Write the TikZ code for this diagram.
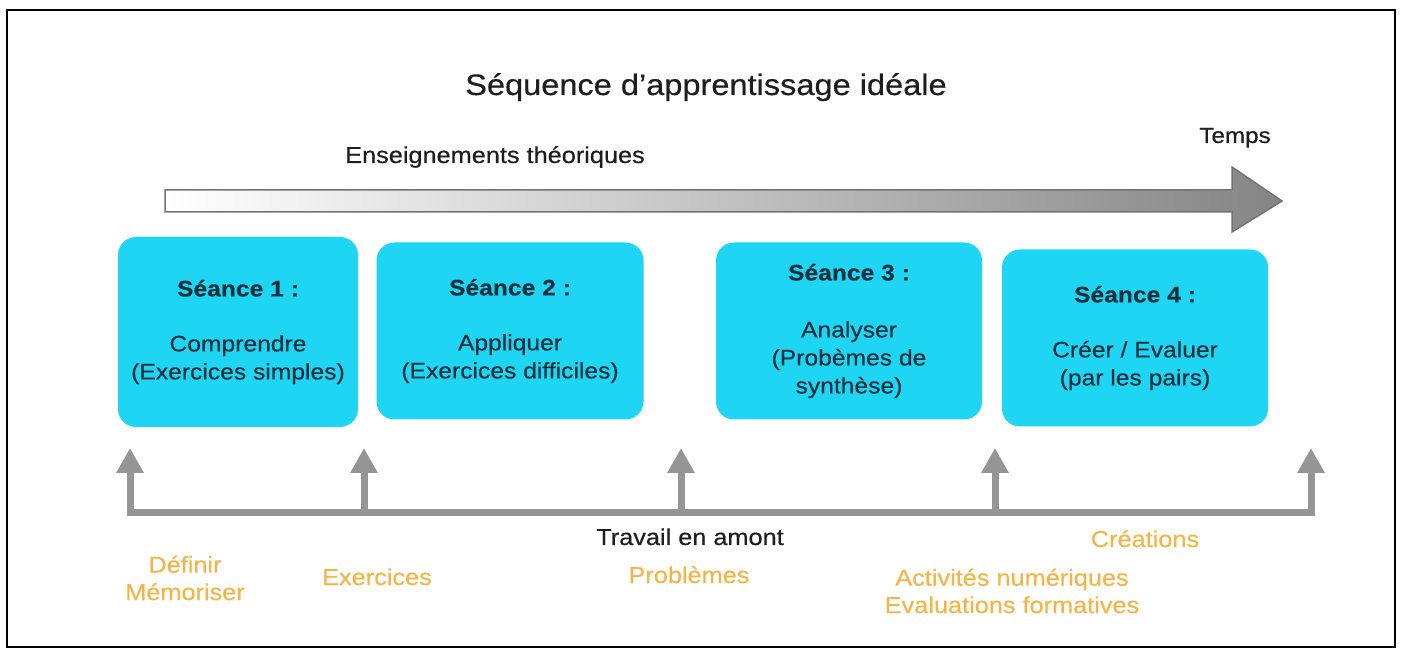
\documentclass[tikz,border=0pt]{standalone}
\usepackage{fontspec}
\setmainfont[FakeStretch=1.1, FakeBold=0.45]{Liberation Sans}
\usepackage{tikz}
\usetikzlibrary{arrows.meta,positioning,calc}
\definecolor{seanceCyan}{HTML}{1FD5F4}
\definecolor{seanceInk}{HTML}{14303C}
\definecolor{tacheOrange}{HTML}{F2B54A}
\definecolor{railGray}{HTML}{959595}
\definecolor{titleInk}{HTML}{1E1E1E}
\tikzset{
  >=Stealth,
  seance/.style={rectangle, rounded corners=9pt, fill=seanceCyan, text=seanceInk, inner sep=0pt, align=center, font=\fontsize{11.2}{14}\selectfont},
  tache/.style={text=tacheOrange, align=center, font=\fontsize{11.5}{13.7}\selectfont},
  lbl/.style={text=titleInk, anchor=base, font=\fontsize{11.5}{14}\selectfont}
}
\begin{document}
\begin{tikzpicture}[x=0.5pt, y=-0.5pt,
    % styles for the timeline figure
    rail/.style={draw=railGray, line width=3.5pt, line cap=rect},
    push/.style={draw=railGray, line width=3.5pt, -{Triangle[width=13pt,length=12.5pt]}},
    time arrow/.style={left color=white, right color=black!48, draw=black!55, line width=0.75pt}
]
\useasboundingbox (0,0) rectangle (1402,651);
\draw[line width=1.25pt] (7,10) rectangle (1395,647);

% --- Titles ---
\node[lbl, font=\fontsize{14.8}{18}\selectfont] (titre) at (706,95) {Séquence d’apprentissage idéale};
\node[lbl] (theorie) at (495,163) {Enseignements théoriques};
\node[lbl, font=\fontsize{11}{14}\selectfont] (temps) at (1235,143) {Temps};

% --- Time arrow ---
\coordinate (tA) at (165,201);
\coordinate (tB) at (1232,201);
\coordinate (tC) at (1282,201);
\shade[time arrow] ($(tA)+(0,-11)$) -- ($(tB)+(0,-11)$) -- ($(tB)+(0,-34)$) -- (tC)
    -- ($(tB)+(0,31)$) -- ($(tB)+(0,11)$) -- ($(tA)+(0,11)$) -- cycle;

% --- Seances ---
\node[seance, minimum width=120pt, minimum height=95pt] (S1) at (238,332)
    {\textbf{Séance 1 :}\\[13.5pt]Comprendre\\(Exercices simples)};
\node[seance, minimum width=133.5pt, minimum height=88.5pt] (S2) at (510,331)
    {\textbf{Séance 2 :}\\[13.5pt]Appliquer\\(Exercices difficiles)};
\node[seance, minimum width=133pt, minimum height=88.5pt] (S3) at (849,331)
    {\textbf{Séance 3 :}\\[14.5pt]Analyser\\(Probèmes de\\synthèse)};
\node[seance, minimum width=133pt, minimum height=88.5pt] (S4) at (1135,338)
    {\textbf{Séance 4 :}\\[13.5pt]Créer / Evaluer\\(par les pairs)};

% --- Travail en amont ---
\foreach \n/\x in {1/130, 2/364, 3/681, 4/995, 5/1311} {
    \coordinate (b\n) at (\x,513);
    \coordinate (t\n) at (\x,448);
}
\draw[rail] (b1) -- (b5);
\foreach \n in {1,...,5} {
    \draw[push] (b\n) -- (t\n);
}
\node[lbl] (amont) at (690,545) {Travail en amont};

% --- Taches ---
\node[tache] (definir) at (185,578) {Définir\\Mémoriser};
\node[tache, anchor=base] (exos) at (377,585) {Exercices};
\node[tache, anchor=base] (problemes) at (689,583) {Problèmes};
\node[tache, anchor=base] (creations) at (1145,547) {Créations};
\node[tache] (activites) at (1012,591) {Activités numériques\\Evaluations formatives};

\end{tikzpicture}
\end{document}
